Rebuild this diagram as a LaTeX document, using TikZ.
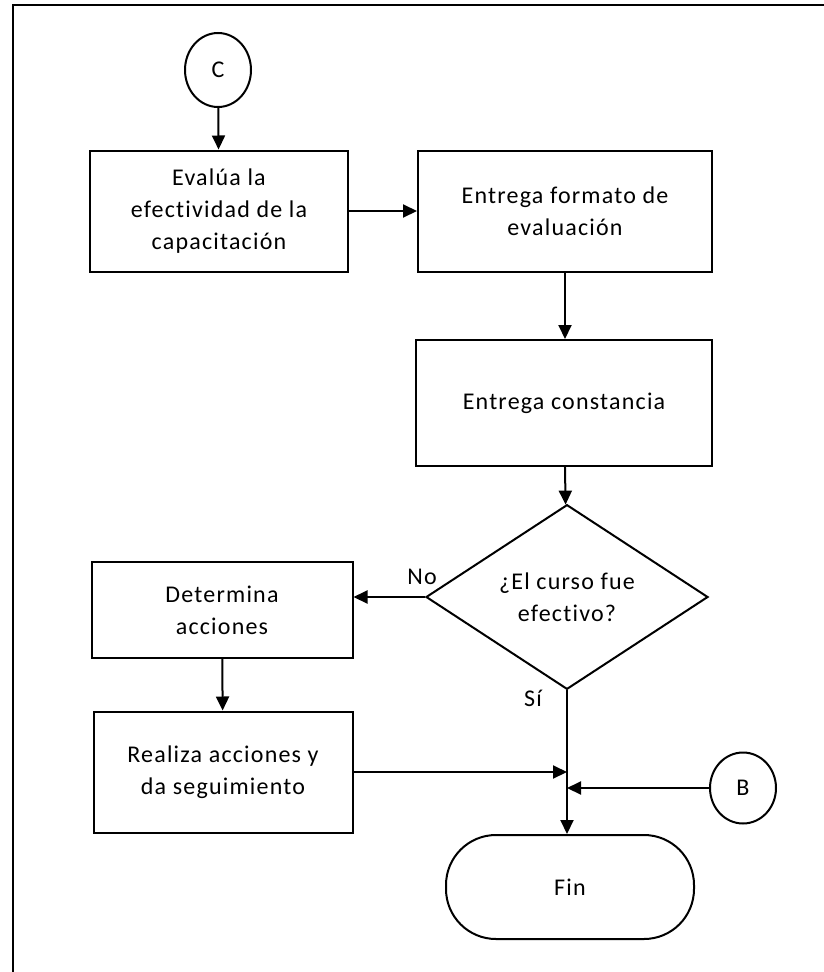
\documentclass[tikz,border=0pt]{standalone}
\usepackage{fontspec}
\setmainfont{Carlito}[LetterSpace=5,Ligatures=NoCommon]
\usetikzlibrary{arrows.meta,shapes.geometric}
\begin{document}
\begin{tikzpicture}[x=1pt,y=-1pt,line width=2pt,
        font=\fontsize{24}{32}\selectfont,
        proceso/.style={draw,rectangle,align=center,inner sep=0pt},
        conector/.style={draw,ellipse,minimum width=66pt,minimum height=74pt,inner sep=0pt},
        decision/.style={draw,diamond,align=center,inner sep=0pt,minimum width=282pt,minimum height=168pt},
        flecha/.style={-{Triangle[length=14pt,width=13pt]}}]
        \useasboundingbox (0,0) rectangle (824,972);
        \draw [line width=2.6pt] (13,972) -- (13,5) -- (824,5);
        \node [conector] (C) at (218,70) {C};
        \node [proceso,minimum width=258pt,minimum height=121pt] (evalua) at (219,211) {Eval\'ua la\\efectividad de la\\capacitaci\'on};
        \node [proceso,minimum width=294pt,minimum height=121pt] (formato) at (565,211) {Entrega formato de\\evaluaci\'on};
        \node [proceso,minimum width=296pt,minimum height=126pt] (constancia) at (564,403) {Entrega constancia};
        \node [decision] (curso) at (567,597) {¿El curso fue\\efectivo?};
        \node [proceso,minimum width=261pt,minimum height=96pt] (determina) at (222,610) {Determina\\acciones};
        \node [proceso,minimum width=259pt,minimum height=121pt] (realiza) at (223,772) {Realiza acciones y\\da seguimiento};
        \node [draw,rectangle,rounded corners=50pt,minimum width=248pt,minimum height=104pt] (fin) at (570,887) {Fin};
        \node [conector,minimum height=71pt] (B) at (743,788) {B};
        \coordinate (j1) at (curso.south |- realiza.east);
        \coordinate (j2) at (curso.south |- B.west);
        % flechas
        \draw [flecha] (C) -- (evalua);
        \draw [flecha] (evalua) -- (formato);
        \draw [flecha] (formato) -- (constancia.north -| formato.south);
        \draw [flecha] (constancia) -- (curso);
        \draw [flecha] (curso.west) -- (curso.west -| determina.east);
        \draw [flecha] (determina) -- (realiza);
        \draw [flecha] (realiza.east) -- (j1);
        \draw [flecha] (B) -- (j2);
        \draw [flecha] (curso.south) -- (curso.south |- fin.north);
        \node at (422,577) {No};
        \node at (533,698) {S\'i};
\end{tikzpicture}
\end{document}
